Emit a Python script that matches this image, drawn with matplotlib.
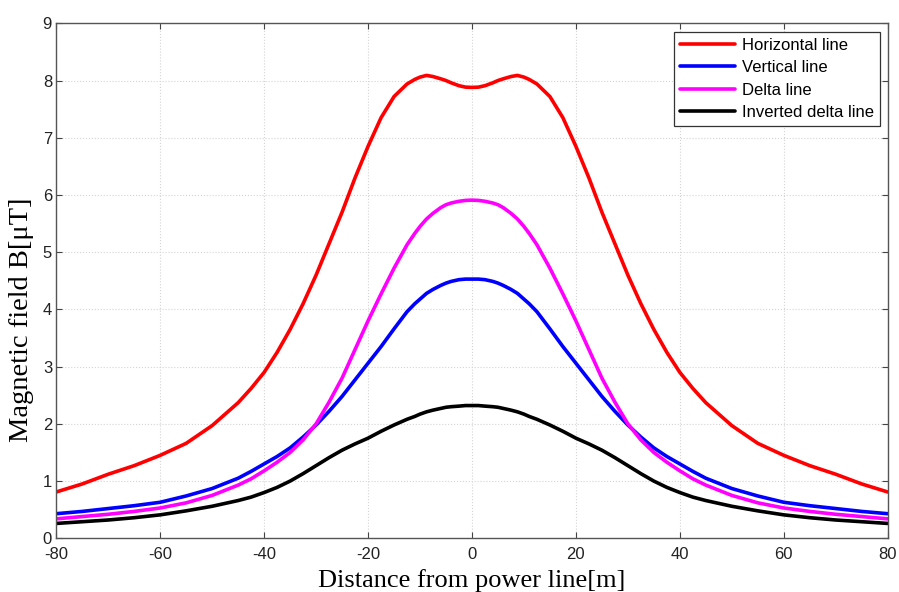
import matplotlib
matplotlib.use("Agg")
import matplotlib.pyplot as plt
import numpy as np

plt.rcParams["axes.unicode_minus"] = False

# distance from power line [m] (left half, mirrored for the right half)
x_half = [-80, -75, -70, -65, -60, -55, -50, -45, -42.5, -40, -37.5, -35, -32.5, -30,
          -27.5, -25, -22.5, -20, -17.5, -15, -12.5, -11, -10, -8.75, -7.5, -6, -5,
          -4, -2.5, -1.25, 0]
horizontal_half = [0.81, 0.95, 1.12, 1.27, 1.45, 1.66, 1.97, 2.37, 2.62, 2.90, 3.25, 3.65, 4.10, 4.60,
                   5.15, 5.70, 6.30, 6.85, 7.35, 7.72, 7.94, 8.02, 8.06, 8.09, 8.07, 8.03, 8.00,
                   7.96, 7.91, 7.885, 7.88]
vertical_half = [0.43, 0.47, 0.52, 0.57, 0.63, 0.74, 0.87, 1.05, 1.17, 1.30, 1.43, 1.58, 1.77, 1.98,
                 2.22, 2.48, 2.77, 3.06, 3.35, 3.66, 3.96, 4.10, 4.18, 4.28, 4.35, 4.42, 4.46,
                 4.49, 4.52, 4.53, 4.53]
delta_half = [0.34, 0.38, 0.42, 0.47, 0.53, 0.62, 0.75, 0.93, 1.04, 1.18, 1.33, 1.50, 1.72, 2.00,
              2.38, 2.80, 3.30, 3.80, 4.27, 4.72, 5.13, 5.33, 5.45, 5.58, 5.68, 5.78, 5.83,
              5.86, 5.89, 5.905, 5.91]
inv_delta_half = [0.26, 0.29, 0.32, 0.36, 0.41, 0.48, 0.56, 0.66, 0.72, 0.80, 0.89, 1.00, 1.13, 1.27,
                  1.41, 1.54, 1.65, 1.75, 1.87, 1.98, 2.08, 2.13, 2.17, 2.21, 2.24, 2.27, 2.29,
                  2.30, 2.31, 2.32, 2.32]

def mirror(vals):
    return vals + vals[-2::-1]

x = x_half + [-v for v in x_half[-2::-1]]
series = [
    ("Horizontal line", mirror(horizontal_half), "#ff0000"),
    ("Vertical line", mirror(vertical_half), "#0000ff"),
    ("Delta line", mirror(delta_half), "#ff00ff"),
    ("Inverted delta line", mirror(inv_delta_half), "#000000"),
]

fig = plt.figure(figsize=(8.99, 5.92), dpi=100)
ax = fig.add_axes([0.0626, 0.0907, 0.9248, 0.8699])

for label, vals, color in series:
    ax.plot(x, vals, color=color, lw=2.6, label=label, solid_joinstyle="round",
            solid_capstyle="round")

ax.set_xlim(-80, 80)
ax.set_ylim(0, 9)
ax.set_xticks(np.arange(-80, 81, 20))
ax.set_yticks(np.arange(0, 10, 1))
ax.grid(True, color="#d4d4d4", linestyle=":", linewidth=0.8)
ax.tick_params(axis="both", direction="in", labelsize=12, length=4, width=0.8,
               colors="#444444", top=True, right=True)
ax.tick_params(axis="x", pad=6)
ax.tick_params(axis="y", pad=3)
for lab in ax.get_xticklabels() + ax.get_yticklabels():
    lab.set_fontfamily("Liberation Sans")
    lab.set_color("#222222")
for sp in ax.spines.values():
    sp.set_color("#555555")
    sp.set_linewidth(1.0)

ax.set_xlabel("Distance from power line[m]", family="Liberation Serif", fontsize=19,
              labelpad=5)
ax.set_ylabel("Magnetic field B[\u03bcT]", family="Liberation Serif", fontsize=20.5)
ax.yaxis.set_label_coords(-0.027, 0.424)

leg = ax.legend(loc="upper right", bbox_to_anchor=(0.9904, 0.9833), fancybox=False,
                edgecolor="#333333", framealpha=1, handlelength=3.3, handletextpad=0.4,
                borderpad=0.35, labelspacing=0.45, borderaxespad=0,
                prop={"family": "Liberation Sans", "size": 12})
leg.get_frame().set_linewidth(0.9)

fig.savefig("out.png", dpi=100)
